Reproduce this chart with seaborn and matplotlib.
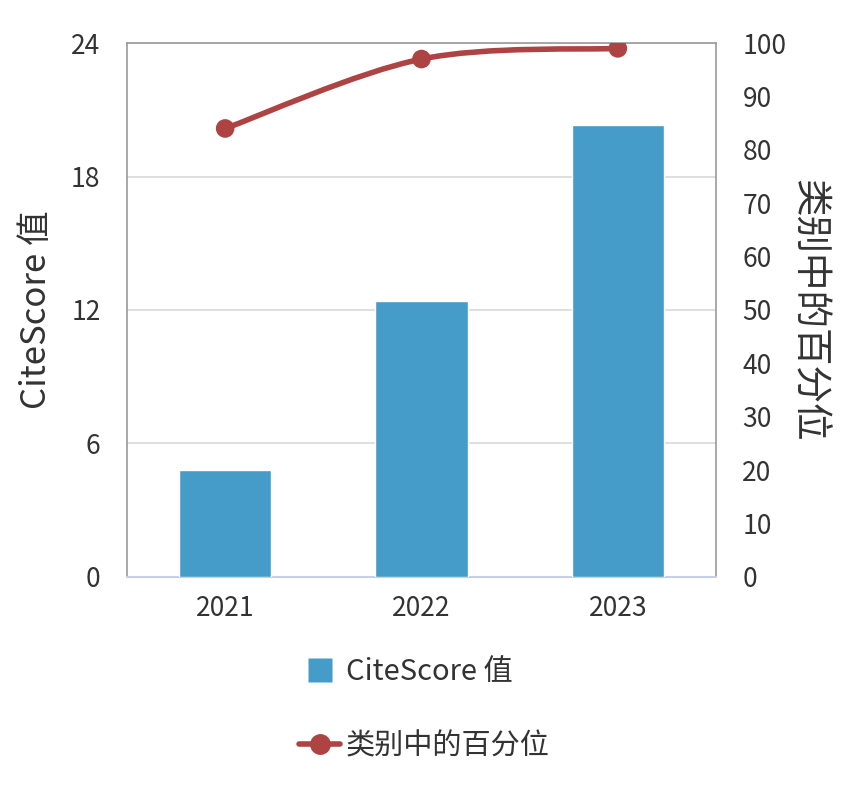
from matplotlib import pyplot as plt
from matplotlib.path import Path
from matplotlib.patches import PathPatch
from matplotlib.lines import Line2D
import numpy as np
import pandas as pd
import seaborn as sns

# Data
years = ['2021', '2022', '2023']
citescore = [4.8, 12.4, 20.3]
percentile = [84, 97, 99]

bar_color = '#459CC9'
line_color = '#AD4343'
text_color = '#333333'

sns.set_theme(style='white')
plt.rcParams['font.family'] = ['Noto Sans CJK SC', 'DejaVu Sans']

df = pd.DataFrame({'year': years, 'citescore': citescore, 'percentile': percentile})

fig = plt.figure(figsize=(8.58, 7.88), dpi=100)
ax = fig.add_axes([0.148, 0.2678, 0.6865, 0.6776])

sns.barplot(data=df, x='year', y='citescore', color=bar_color, width=0.47,
            saturation=1, ax=ax, zorder=3)
ax.set_xlim(-0.5, 2.5)
ax.set_ylim(0, 24)
ax.set_yticks([0, 6, 12, 18, 24])
ax.yaxis.grid(True, color='#D9D9D9', linewidth=1.2, zorder=0)
ax.set_axisbelow(True)
ax.set_xlabel('')
ax.set_ylabel('CiteScore 值', fontsize=25, color=text_color, labelpad=12)
ax.tick_params(axis='y', length=0, labelsize=19, colors=text_color, pad=19)
ax.tick_params(axis='x', length=0, labelsize=19, colors=text_color, pad=13)

for side in ['top', 'left', 'right']:
    ax.spines[side].set_color('#999999')
    ax.spines[side].set_linewidth(1.2)
ax.spines['bottom'].set_color('#C5D0E6')
ax.spines['bottom'].set_linewidth(1.5)

ax2 = ax.twinx()
ax2.set_ylim(0, 100)
ax2.set_yticks(range(0, 101, 10))
ax2.tick_params(axis='y', length=0, labelsize=19, colors=text_color, pad=19)
ax2.set_ylabel('类别中的百分位', fontsize=27, color=text_color, rotation=-90,
               labelpad=30)
for side in ax2.spines:
    ax2.spines[side].set_visible(False)

# smoothed line (Catmull-Rom as cubic bezier segments)
xs = np.arange(len(years), dtype=float)
ys = np.array(percentile, dtype=float)
pts = np.column_stack([xs, ys])
ext = np.vstack([pts[0], pts, pts[-1]])
verts = [tuple(pts[0])]
codes = [Path.MOVETO]
for i in range(1, len(ext) - 2):
    p0, p1, p2, p3 = ext[i - 1], ext[i], ext[i + 1], ext[i + 2]
    c1 = p1 + (p2 - p0) / 6
    c2 = p2 - (p3 - p1) / 6
    verts += [tuple(c1), tuple(c2), tuple(p2)]
    codes += [Path.CURVE4] * 3
ax2.add_patch(PathPatch(Path(verts, codes), fill=False, edgecolor=line_color,
                        linewidth=4, capstyle='round', zorder=4))
sns.scatterplot(x=xs, y=ys, color=line_color, s=180, edgecolor='none',
                ax=ax2, zorder=5)

handles = [Line2D([0], [0], linestyle='none', marker='s', markersize=17,
                  markerfacecolor=bar_color, markeredgecolor='none'),
           Line2D([0], [0], color=line_color, linewidth=4, marker='o',
                  markersize=14)]
fig.legend(handles, ['CiteScore 值', '类别中的百分位'], loc='upper center',
           bbox_to_anchor=(0.495, 0.199), ncol=1, frameon=False, fontsize=21,
           labelspacing=1.5, handlelength=1.4, handletextpad=0.2,
           labelcolor=text_color)

fig.savefig('out.png', dpi=100)
